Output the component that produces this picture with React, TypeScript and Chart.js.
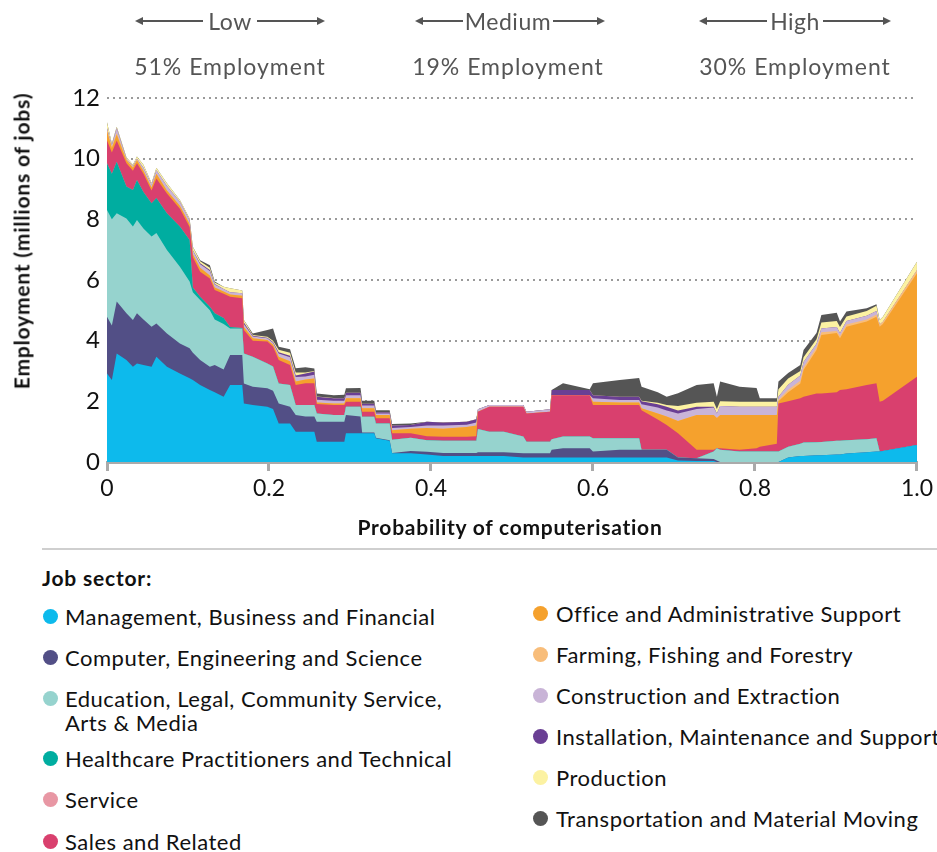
import React, { useEffect, useRef } from 'react';
import { Chart, registerables } from 'chart.js';

Chart.register(...registerables);

// Probability of computerisation (x positions of the stacked profile)
const probability = [
  0.000, 0.006, 0.012, 0.024, 0.032, 0.037, 0.045, 0.055, 0.061, 0.074,
  0.090, 0.102, 0.106, 0.115, 0.127, 0.133, 0.144, 0.152, 0.167, 0.169,
  0.180, 0.198, 0.205, 0.212, 0.226, 0.233, 0.245, 0.256, 0.259, 0.280,
  0.293, 0.295, 0.313, 0.315, 0.330, 0.332, 0.349, 0.352, 0.375, 0.395,
  0.415, 0.444, 0.456, 0.458, 0.472, 0.490, 0.514, 0.518, 0.547, 0.549,
  0.563, 0.596, 0.600, 0.633, 0.657, 0.660, 0.680, 0.691, 0.705, 0.728,
  0.749, 0.753, 0.757, 0.781, 0.802, 0.806, 0.827, 0.829, 0.841, 0.856,
  0.860, 0.876, 0.882, 0.901, 0.905, 0.913, 0.938, 0.950, 0.954, 0.958,
  1.000,
];

// Employment (millions of jobs) per job sector
const management = [
  2.92, 2.7, 3.58, 3.36, 3.14, 3.25, 3.2, 3.14, 3.47, 3.14,
  2.92, 2.76, 2.7, 2.54, 2.37, 2.3, 2.15, 2.54, 2.54, 1.93,
  1.88, 1.82, 1.75, 1.27, 1.27, 1.0, 1.0, 1.0, 0.67, 0.67,
  0.67, 0.95, 0.95, 0.95, 0.95, 0.78, 0.7, 0.29, 0.29, 0.25,
  0.2, 0.2, 0.2, 0.2, 0.2, 0.2, 0.15, 0.15, 0.15, 0.15,
  0.15, 0.15, 0.15, 0.15, 0.15, 0.15, 0.15, 0.15, 0.05, 0.03,
  0.03, 0, 0, 0, 0, 0, 0, 0, 0.15, 0.2,
  0.2, 0.22, 0.22, 0.25, 0.25, 0.28, 0.32, 0.35, 0.35, 0.36,
  0.56,
];
const computer = [
  1.87, 1.8, 1.71, 1.54, 1.54, 1.65, 1.5, 1.32, 1.1, 1.1,
  0.99, 0.99, 0.9, 0.82, 0.77, 0.9, 0.9, 0.99, 0.99, 0.66,
  0.6, 0.61, 0.6, 0.66, 0.55, 0.55, 0.5, 0.5, 0.66, 0.66,
  0.66, 0.6, 0.55, 0.02, 0.02, 0.02, 0.02, 0.01, 0.07, 0.09,
  0.1, 0.1, 0.1, 0.12, 0.12, 0.12, 0.14, 0.14, 0.14, 0.25,
  0.3, 0.3, 0.2, 0.25, 0.25, 0.25, 0.25, 0.25, 0.1, 0.09,
  0.07, 0.05, 0, 0, 0, 0, 0, 0, 0, 0,
  0, 0, 0, 0, 0, 0, 0, 0, 0, 0,
  0,
];
const education = [
  3.52, 3.5, 2.91, 3.13, 3.08, 3.08, 3.0, 2.97, 2.98, 2.75,
  2.53, 2.2, 2.0, 1.98, 1.86, 1.5, 1.5, 0.87, 0.87, 0.99,
  0.99, 0.82, 0.8, 0.66, 0.72, 0.33, 0.38, 0.38, 0.27, 0.22,
  0.22, 0.27, 0.32, 0.52, 0.52, 0.47, 0.55, 0.43, 0.44, 0.38,
  0.4, 0.4, 0.4, 0.77, 0.68, 0.68, 0.55, 0.38, 0.38, 0.35,
  0.39, 0.39, 0.43, 0.38, 0.38, 0, 0, 0, 0, 0,
  0.25, 0.4, 0.4, 0.35, 0.35, 0.35, 0.35, 0.35, 0.35, 0.4,
  0.44, 0.43, 0.44, 0.45, 0.45, 0.44, 0.43, 0.43, 0, 0,
  0,
];
const healthcare = [
  1.54, 1.5, 1.7, 1.05, 1.21, 1.32, 1.2, 1.1, 1.15, 1.21,
  1.32, 1.37, 0.15, 0.11, 0.12, 0.2, 0.2, 0.05, 0.02, 0,
  0, 0, 0, 0, 0, 0, 0, 0, 0, 0,
  0, 0, 0, 0, 0, 0, 0, 0, 0, 0,
  0, 0, 0, 0, 0, 0, 0, 0, 0, 0,
  0, 0, 0, 0, 0, 0, 0, 0, 0, 0,
  0, 0, 0, 0, 0, 0, 0, 0, 0, 0,
  0, 0, 0, 0, 0, 0, 0, 0, 0, 0,
  0,
];
const service = [
  0, 0, 0, 0, 0, 0, 0, 0, 0, 0,
  0, 0, 0, 0, 0, 0, 0, 0, 0, 0,
  0, 0, 0, 0, 0, 0, 0, 0, 0, 0,
  0, 0, 0, 0, 0, 0, 0, 0, 0, 0,
  0, 0, 0, 0, 0, 0, 0, 0, 0, 0,
  0, 0, 0, 0, 0, 0, 0, 0, 0, 0,
  0, 0, 0, 0, 0, 0, 0, 0, 0, 0,
  0, 0, 0, 0, 0, 0, 0, 0, 0, 0,
  0,
];
const sales = [
  0.75, 0.7, 0.7, 0.77, 0.63, 0.55, 0.6, 0.42, 0.65, 0.65,
  0.59, 0.43, 1.0, 0.82, 0.93, 0.77, 0.8, 1.0, 0.98, 0.77,
  0.53, 0.72, 0.65, 0.77, 0.66, 0.66, 0.72, 0.72, 0.31, 0.33,
  0.33, 0.17, 0.17, 0.17, 0.17, 0.17, 0.17, 0.22, 0.15, 0.13,
  0.13, 0.13, 0.15, 0.57, 0.82, 0.82, 0.98, 0.93, 0.99, 1.45,
  1.36, 1.36, 1.1, 1.1, 1.1, 1.31, 1.0, 0.82, 0.8, 0.28,
  0.05, 0, 0.05, 0.05, 0.1, 0.15, 0.25, 1.58, 1.5, 1.5,
  1.51, 1.61, 1.6, 1.6, 1.67, 1.68, 1.79, 1.82, 1.64, 1.66,
  2.25,
];
const office = [
  0.3, 0.15, 0.2, 0.1, 0.1, 0.1, 0.1, 0.1, 0.15, 0.1,
  0.1, 0.1, 0.1, 0.13, 0.1, 0.08, 0.07, 0.07, 0.08, 0.1,
  0.08, 0.05, 0.07, 0.11, 0.12, 0.11, 0.12, 0.15, 0.05, 0.05,
  0.05, 0.11, 0.11, 0.11, 0.11, 0.11, 0.11, 0.1, 0.15, 0.27,
  0.27, 0.32, 0.35, 0, 0, 0, 0, 0, 0, 0,
  0, 0, 0.11, 0.08, 0.08, 0.06, 0.2, 0.28, 0.4, 1.15,
  1.15, 1.0, 1.1, 1.15, 1.1, 1.05, 0.95, 0.07, 0.3, 0.49,
  0.88, 1.43, 1.93, 1.95, 1.71, 2.06, 2.09, 2.19, 2.47, 2.53,
  3.41,
];
const farming = [
  0.05, 0.05, 0.05, 0.02, 0.02, 0.02, 0, 0, 0, 0,
  0, 0, 0, 0, 0, 0, 0, 0, 0, 0,
  0, 0, 0, 0, 0, 0, 0, 0, 0, 0,
  0, 0, 0, 0, 0, 0, 0, 0, 0, 0,
  0, 0, 0, 0, 0, 0, 0, 0, 0, 0,
  0, 0, 0, 0, 0, 0, 0, 0, 0, 0,
  0, 0, 0, 0, 0, 0, 0, 0.05, 0.08, 0.09,
  0.09, 0.09, 0.09, 0.07, 0.07, 0.07, 0.07, 0.07, 0.07, 0.07,
  0.1,
];
const construction = [
  0.05, 0.05, 0.15, 0.03, 0.03, 0.03, 0.1, 0.1, 0.12, 0.15,
  0.13, 0.12, 0.13, 0.12, 0.15, 0.1, 0.08, 0.08, 0.08, 0.1,
  0.06, 0.06, 0.06, 0.11, 0.13, 0.15, 0.1, 0.13, 0.09, 0.09,
  0.09, 0.1, 0.1, 0.09, 0.09, 0.05, 0.05, 0.07, 0.05, 0.08,
  0.1, 0.08, 0.1, 0.08, 0.06, 0.06, 0.06, 0.06, 0.08, 0,
  0, 0, 0.11, 0.08, 0.08, 0.13, 0.2, 0.2, 0.25, 0.2,
  0.25, 0.15, 0.3, 0.27, 0.27, 0.27, 0.27, 0.1, 0.17, 0.17,
  0.18, 0.12, 0.12, 0.13, 0.1, 0.12, 0.12, 0.12, 0, 0,
  0,
];
const installation = [
  0, 0, 0, 0, 0, 0, 0, 0, 0, 0,
  0, 0, 0, 0.03, 0.03, 0.02, 0, 0, 0, 0.05,
  0.02, 0.02, 0.03, 0.04, 0.05, 0.05, 0.1, 0.1, 0.1, 0.08,
  0.08, 0.08, 0.08, 0.06, 0.06, 0.04, 0.04, 0.08, 0.07, 0.13,
  0.1, 0.1, 0.11, 0, 0, 0, 0, 0, 0, 0.17,
  0.17, 0.17, 0.1, 0.11, 0.11, 0.1, 0.1, 0.12, 0.1, 0.07,
  0.02, 0, 0, 0, 0, 0, 0, 0, 0, 0,
  0, 0, 0, 0, 0, 0, 0, 0, 0, 0,
  0,
];
const production = [
  0.2, 0.05, 0.05, 0.05, 0.05, 0.07, 0.1, 0.05, 0.08, 0.09,
  0.06, 0.06, 0.12, 0.07, 0.07, 0.05, 0.08, 0.13, 0.09, 0.08,
  0.03, 0.03, 0.04, 0.08, 0.1, 0.1, 0.03, 0.02, 0.01, 0.01,
  0, 0, 0, 0, 0, 0, 0, 0, 0, 0,
  0, 0, 0, 0, 0, 0, 0, 0, 0, 0,
  0, 0, 0, 0, 0, 0.02, 0.05, 0.06, 0.15, 0.13,
  0.17, 0.15, 0.15, 0.17, 0.17, 0.17, 0.17, 0.25, 0.2, 0.15,
  0.15, 0.15, 0.2, 0.2, 0.2, 0.15, 0.16, 0.17, 0.15, 0.17,
  0.28,
];
const transportation = [
  0, 0, 0, 0, 0, 0, 0, 0, 0, 0,
  0, 0, 0, 0.03, 0.09, 0.03, 0, 0, 0, 0,
  0.05, 0.22, 0.4, 0.1, 0.12, 0.14, 0.17, 0.08, 0.1, 0.09,
  0.12, 0.15, 0.16, 0.1, 0.1, 0.07, 0.07, 0.05, 0.05, 0,
  0, 0, 0, 0, 0, 0, 0, 0, 0, 0,
  0.23, 0.03, 0.4, 0.55, 0.62, 0.46, 0.35, 0.27, 0.42, 0.59,
  0.61, 0.4, 0.65, 0.49, 0.45, 0.11, 0.11, 0.25, 0.18, 0.2,
  0.24, 0.2, 0.25, 0.27, 0.18, 0.16, 0.09, 0.05, 0, 0,
  0,
];

const sectorNames = [
  'Management, Business and Financial',
  'Computer, Engineering and Science',
  'Education, Legal, Community Service, Arts & Media',
  'Healthcare Practitioners and Technical',
  'Service',
  'Sales and Related',
  'Office and Administrative Support',
  'Farming, Fishing and Forestry',
  'Construction and Extraction',
  'Installation, Maintenance and Support',
  'Production',
  'Transportation and Material Moving',
];
const sectorColors = [
  '#0dbaec', '#524f86', '#96d3ce', '#00ada0', '#e897a4', '#d9406e',
  '#f5a12d', '#f8bd7a', '#c9b4d7', '#6a3f94', '#fcf2a2', '#555555',
];
const sectorSeries = [
  management, computer, education, healthcare, service, sales,
  office, farming, construction, installation, production, transportation,
];

const xTickLabels = ['0', '0.2', '0.4', '0.6', '0.8', '1.0'];
const yTickLabels = ['0', '2', '4', '6', '8', '10', '12'];

const bandNames = ['Low', 'Medium', 'High'];
const bandShares = ['51% Employment', '19% Employment', '30% Employment'];

const FONT = 'Lato, "Noto Sans", sans-serif';
const BAND_LAYOUT = [
  { center: 230, left: [137, 203], right: [257, 323] },
  { center: 508, left: [417, 463], right: [553, 603] },
  { center: 795, left: [701, 767], right: [823, 889] },
];

function Arrow({ x1, x2, dir }: { x1: number; x2: number; dir: 'left' | 'right' }) {
  const y = 21;
  return (
    <>
      <div style={{ position: 'absolute', left: x1, top: y - 1, width: x2 - x1, height: 2, background: '#555' }} />
      <div
        style={{
          position: 'absolute',
          left: dir === 'left' ? x1 - 2 : x2 - 6,
          top: y - 4,
          width: 0,
          height: 0,
          borderTop: '4px solid transparent',
          borderBottom: '4px solid transparent',
          borderRight: dir === 'left' ? '8px solid #555' : undefined,
          borderLeft: dir === 'right' ? '8px solid #555' : undefined,
        }}
      />
    </>
  );
}

const leftLegend = [
  { idx: 0, y: 617 },
  { idx: 1, y: 658 },
  { idx: 2, y: 699 },
  { idx: 3, y: 759 },
  { idx: 4, y: 800 },
  { idx: 5, y: 842 },
];
const rightLegend = [
  { idx: 6, y: 614 },
  { idx: 7, y: 655 },
  { idx: 8, y: 696 },
  { idx: 9, y: 737 },
  { idx: 10, y: 778 },
  { idx: 11, y: 819 },
];

function LegendItem({ idx, y, dotX, textX }: { idx: number; y: number; dotX: number; textX: number }) {
  const name = sectorNames[idx];
  const lines = idx === 2 ? ['Education, Legal, Community Service,', 'Arts & Media'] : [name];
  return (
    <>
      <div
        style={{
          position: 'absolute', left: dotX - 7.5, top: y - 8, width: 15, height: 15,
          borderRadius: '50%', background: sectorColors[idx],
        }}
      />
      <div
        style={{
          position: 'absolute', left: textX, top: y - 12, fontFamily: FONT, fontSize: 22,
          letterSpacing: '0.5px', lineHeight: '24px', color: '#111', whiteSpace: 'nowrap',
        }}
      >
        {lines.map((l, i) => (
          <div key={i}>{l}</div>
        ))}
      </div>
    </>
  );
}

export default function App() {
  const canvasRef = useRef<HTMLCanvasElement | null>(null);

  useEffect(() => {
    const canvas = canvasRef.current;
    if (!canvas) return;
    const chart = new Chart(canvas, {
      type: 'line',
      data: {
        datasets: sectorSeries.map((series, i) => ({
          label: sectorNames[i],
          data: series.map((v, j) => ({ x: probability[j], y: v })),
          backgroundColor: sectorColors[i],
          borderColor: sectorColors[i],
          borderWidth: 0,
          pointRadius: 0,
          fill: 'origin',
          tension: 0,
        })),
      },
      options: {
        animation: false,
        responsive: false,
        maintainAspectRatio: false,
        layout: { padding: { left: 0, right: 20, top: 98, bottom: 0 } },
        plugins: {
          legend: { display: false },
          tooltip: { enabled: false },
        },
        scales: {
          x: {
            type: 'linear',
            min: 0,
            max: 1,
            afterFit: (s: any) => { s.height = 88; },
            grid: { drawOnChartArea: false, drawTicks: true, tickLength: 9, color: '#aaaaaa', lineWidth: 3 },
            border: { display: true, color: '#aaaaaa', width: 3 },
            ticks: {
              stepSize: 0.2,
              padding: 4,
              autoSkip: false,
              maxRotation: 0,
              color: '#111',
              font: { family: FONT, size: 23 },
              callback: (v: any) => xTickLabels[Math.round(Number(v) * 5)] ?? '',
            },
          },
          y: {
            type: 'linear',
            stacked: true,
            min: 0,
            max: 12,
            z: 1,
            afterFit: (s: any) => { s.width = 107; },
            grid: {
              drawTicks: false,
              lineWidth: 2,
              color: (ctx: any) => (ctx.tick && ctx.tick.value === 0 ? 'rgba(0,0,0,0)' : '#9a9a9a'),
            },
            border: { display: false, dash: [2, 4] },
            ticks: {
              stepSize: 2,
              padding: 7,
              color: '#111',
              font: { family: FONT, size: 24 },
              callback: (v: any) => yTickLabels[Math.round(Number(v) / 2)] ?? '',
            },
          },
        },
      } as any,
    });
    return () => chart.destroy();
  }, []);

  return (
    <div style={{ position: 'absolute', left: 0, top: 0, width: 937, height: 852, overflow: 'hidden', background: '#fff' }}>
      <canvas ref={canvasRef} width={937} height={550} style={{ position: 'absolute', left: 0, top: 0, width: 937, height: 550 }} />

      {BAND_LAYOUT.map((b, i) => (
        <React.Fragment key={i}>
          <Arrow x1={b.left[0]} x2={b.left[1]} dir="left" />
          <Arrow x1={b.right[0]} x2={b.right[1]} dir="right" />
          <div style={{ position: 'absolute', left: b.center, top: 21, transform: 'translate(-50%, -50%)', fontFamily: FONT, fontSize: 23, letterSpacing: '0.5px', color: '#555', whiteSpace: 'nowrap' }}>
            {bandNames[i]}
          </div>
          <div style={{ position: 'absolute', left: b.center, top: 66, transform: 'translate(-50%, -50%)', fontFamily: FONT, fontSize: 23, letterSpacing: '1px', color: '#555', whiteSpace: 'nowrap' }}>
            {bandShares[i]}
          </div>
        </React.Fragment>
      ))}

      <div
        style={{
          position: 'absolute', left: 21, top: 241, transform: 'translate(-50%, -50%) rotate(-90deg)',
          fontFamily: FONT, fontSize: 21, fontWeight: 700, letterSpacing: '0.8px', color: '#111', whiteSpace: 'nowrap',
        }}
      >
        Employment (millions of jobs)
      </div>

      <div
        style={{
          position: 'absolute', left: 510, top: 526, transform: 'translate(-50%, -50%)',
          fontFamily: FONT, fontSize: 21, fontWeight: 700, letterSpacing: '0.75px', color: '#111', whiteSpace: 'nowrap',
        }}
      >
        Probability of computerisation
      </div>

      <div style={{ position: 'absolute', left: 42, top: 548, width: 895, height: 2, background: '#cfcfcf' }} />
      <div style={{ position: 'absolute', left: 42, top: 566, fontFamily: FONT, fontSize: 21, fontWeight: 700, letterSpacing: '0.8px', color: '#111', lineHeight: '24px' }}>
        Job sector:
      </div>
      {leftLegend.map((it) => (
        <LegendItem key={it.idx} idx={it.idx} y={it.y} dotX={50} textX={65} />
      ))}
      {rightLegend.map((it) => (
        <LegendItem key={it.idx} idx={it.idx} y={it.y} dotX={540} textX={556} />
      ))}
    </div>
  );
}
